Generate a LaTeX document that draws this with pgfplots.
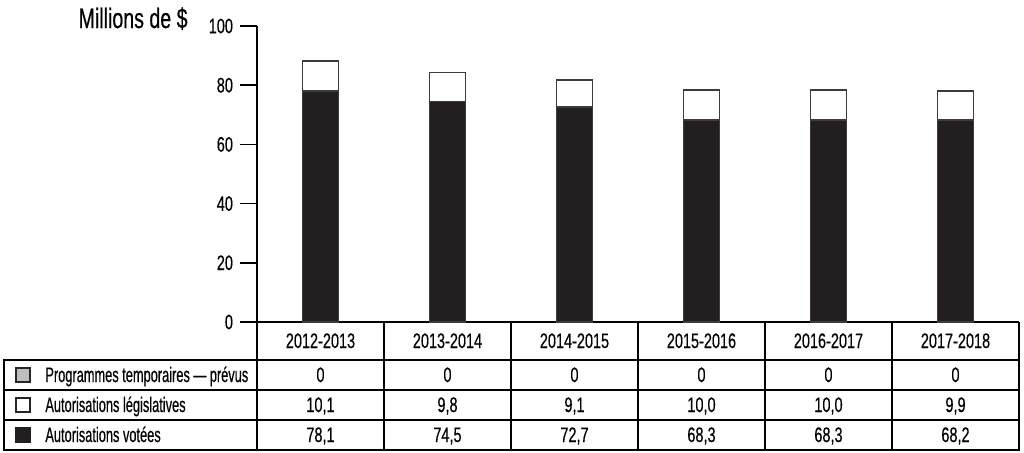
\documentclass[border=0pt]{standalone}
\usepackage{fontspec}
\setmainfont[FakeStretch=0.69,FakeBold=0.4]{Liberation Sans}
\newfontfamily\cond[FakeStretch=0.61,FakeBold=0.4]{Liberation Sans}
\newfontfamily\titlefont[FakeStretch=0.70,FakeBold=0.5]{Liberation Sans}
\usepackage{pgfplots}
\pgfplotsset{compat=1.18}
\definecolor{barblack}{HTML}{231F20}
\definecolor{edge}{HTML}{3C3C3C}
\definecolor{lgray}{HTML}{BEBEBE}

\pgfplotstableread{
x vot leg tmp
0 78.1 10.1 0
1 74.5 9.8 0
2 72.7 9.1 0
3 68.3 10.0 0
4 68.3 10.0 0
5 68.2 9.9 0
}\data

\begin{document}
\begin{tikzpicture}
\useasboundingbox (-128.5pt,-65pt) rectangle (383.5pt,161pt);
\begin{axis}[at={(0,0)}, anchor=south west, scale only axis,
  width=381pt, height=148pt,
  xmin=-0.5, xmax=5.5, ymin=0, ymax=100,
  ybar stacked, bar width=18pt,
  axis x line*=bottom, axis y line*=left,
  axis line style={-, line width=0.75pt, black},
  xtick=\empty, ytick={0,20,...,100}, ytick align=outside,
  major tick length=8.5pt,
  tick style={line width=0.75pt, black},
  yticklabel style={font=\fontsize{10.5}{12}\selectfont},
  /pgf/number format/assume math mode=true,
  clip=false]
\addplot[fill=barblack, draw=edge, line width=0.75pt] table[x=x,y=vot]{\data};
\addplot[fill=white, draw=edge, line width=0.75pt] table[x=x,y=leg]{\data};
\addplot[fill=lgray, draw=edge, line width=0.75pt] table[x=x,y=tmp]{\data};
\end{axis}
% title
\node[anchor=base east, font=\titlefont\fontsize{14}{16}\selectfont, inner sep=0pt] at (-34.5pt,147pt) {Millions de \$};
% table lines
\draw[line width=0.8pt] (-126.5pt,-19pt) rectangle (381pt,-64pt);
\draw[line width=0.7pt] (-126.5pt,-34pt) -- (381pt,-34pt);
\draw[line width=0.7pt] (-126.5pt,-49pt) -- (381pt,-49pt);
\draw[line width=0.75pt] (0pt,0pt) -- (0pt,-64pt);
\draw[line width=0.8pt] (381pt,0pt) -- (381pt,-64pt);
\foreach \k in {1,...,5}{\draw[line width=0.7pt] ({63.5*\k pt},0pt) -- ({63.5*\k pt},-64pt);}
% header
\foreach \lab [count=\i from 0] in {2012-2013,2013-2014,2014-2015,2015-2016,2016-2017,2017-2018}{
  \node[anchor=base, inner sep=0pt, font=\fontsize{10.5}{12}\selectfont] at ({63.5*\i pt+31.75pt},-13pt) {\lab};}
\foreach \lab [count=\i from 0] in {0,0,0,0,0,0}{
  \node[anchor=base, inner sep=0pt, font=\fontsize{10.5}{12}\selectfont] at ({63.5*\i pt+31.75pt},-30pt) {\lab};}
\foreach \lab [count=\i from 0] in {{10,1},{9,8},{9,1},{10,0},{10,0},{9,9}}{
  \node[anchor=base, inner sep=0pt, font=\fontsize{10.5}{12}\selectfont] at ({63.5*\i pt+31.75pt},-45pt) {\lab};}
\foreach \lab [count=\i from 0] in {{78,1},{74,5},{72,7},{68,3},{68,3},{68,2}}{
  \node[anchor=base, inner sep=0pt, font=\fontsize{10.5}{12}\selectfont] at ({63.5*\i pt+31.75pt},-60pt) {\lab};}
% legend squares
\draw[fill=lgray, draw=black!85, line width=0.7pt] (-120.5pt,-30pt) rectangle (-113.5pt,-23pt);
\draw[fill=white, draw=black!85, line width=0.7pt] (-120.5pt,-45pt) rectangle (-113.5pt,-38pt);
\draw[fill=barblack, draw=barblack, line width=0.7pt] (-120.5pt,-60pt) rectangle (-113.5pt,-53pt);
% labels
\node[anchor=base west, inner sep=0pt, font=\cond\fontsize{10.5}{12}\selectfont] at (-106pt,-30pt) {Programmes temporaires — prévus};
\node[anchor=base west, inner sep=0pt, font=\cond\fontsize{10.5}{12}\selectfont] at (-106pt,-45pt) {Autorisations législatives};
\node[anchor=base west, inner sep=0pt, font=\cond\fontsize{10.5}{12}\selectfont] at (-106pt,-60pt) {Autorisations votées};
\end{tikzpicture}
\end{document}
